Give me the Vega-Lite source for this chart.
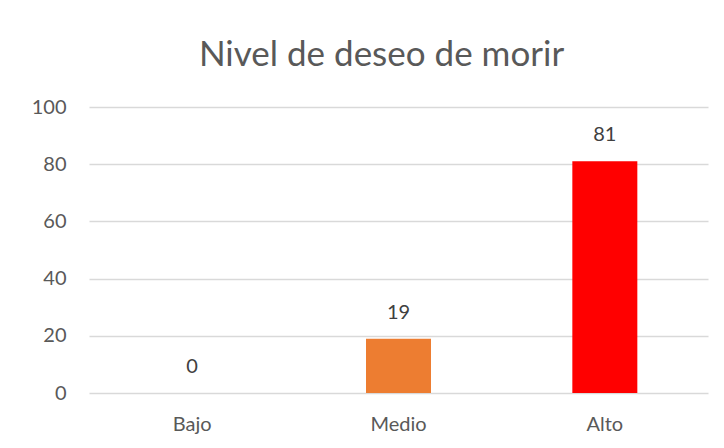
{
  "$schema": "https://vega.github.io/schema/vega-lite/v6.json",
  "autosize": {"type": "none"},
  "padding": {"left": 89, "top": 107, "right": 16, "bottom": 55},
  "width": 619,
  "height": 286,
  "background": "white",
  "title": {
    "text": "Nivel de deseo de morir",
    "font": "Lato",
    "fontSize": 35,
    "fontWeight": "normal",
    "color": "#595959",
    "anchor": "middle",
    "dx": -17,
    "offset": 24
  },
  "config": {
    "view": {"stroke": null},
    "font": "Lato"
  },
  "data": {
    "values": [
      {"nivel": "Bajo", "valor": 0},
      {"nivel": "Medio", "valor": 19},
      {"nivel": "Alto", "valor": 81}
    ]
  },
  "encoding": {
    "x": {
      "field": "nivel",
      "type": "nominal",
      "sort": ["Bajo", "Medio", "Alto"],
      "scale": {"paddingInner": 0.685, "paddingOuter": 0.3425},
      "axis": {
        "title": null,
        "labelAngle": 0,
        "labelFont": "Lato",
        "labelFontSize": 20,
        "labelColor": "#595959",
        "labelPadding": 21,
        "ticks": false,
        "domain": false,
        "grid": false
      }
    },
    "y": {
      "field": "valor",
      "type": "quantitative",
      "scale": {"domain": [0, 100]},
      "axis": {
        "title": null,
        "values": [0, 20, 40, 60, 80, 100],
        "labelFont": "Lato",
        "labelFontSize": 20,
        "labelColor": "#595959",
        "labelPadding": 23,
        "ticks": false,
        "domain": false,
        "gridColor": "#d9d9d9",
        "gridWidth": 1.5
      }
    }
  },
  "layer": [
    {
      "mark": {"type": "bar"},
      "encoding": {
        "color": {
          "field": "nivel",
          "type": "nominal",
          "scale": {"domain": ["Bajo", "Medio", "Alto"], "range": ["#4472C4", "#ED7D31", "#FF0000"]},
          "legend": null
        }
      }
    },
    {
      "mark": {"type": "text", "baseline": "middle", "dy": -26, "font": "Lato", "fontSize": 20, "color": "#404040"},
      "encoding": {
        "text": {"field": "valor", "type": "quantitative"}
      }
    }
  ]
}
